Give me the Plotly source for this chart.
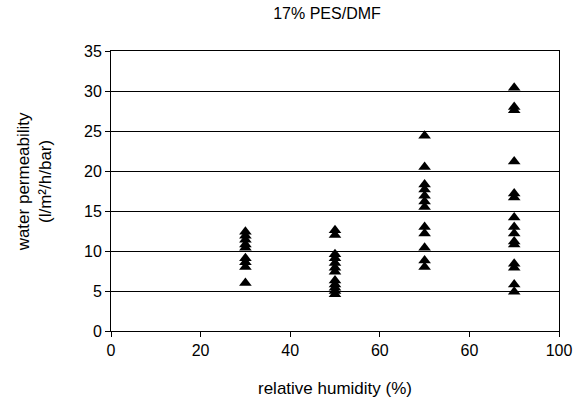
import plotly.graph_objects as go

# Data
rh_30 = [12.4, 11.9, 11.4, 10.8, 10.4, 9.1, 8.6, 8.0, 6.0]
rh_50 = [12.6, 12.0, 9.6, 9.1, 8.5, 7.9, 7.4, 6.3, 5.8, 5.4, 5.0, 4.6]
rh_70 = [24.4, 20.5, 18.3, 17.7, 16.9, 16.2, 15.5, 13.0, 12.2, 10.4, 8.8, 8.0]
rh_90 = [30.4, 28.0, 27.6, 21.2, 17.2, 16.7, 14.2, 13.0, 12.2, 11.2, 10.8, 8.4, 7.9, 5.8, 4.9]
humidity_levels = [30, 50, 70, 90]
x_tickvals = [0, 20, 40, 60, 80, 100]
x_ticktext = ["0", "20", "40", "60", "60", "100"]
y_tickvals = [0, 5, 10, 15, 20, 25, 30, 35]

groups = [rh_30, rh_50, rh_70, rh_90]
xs, ys = [], []
for h, vals in zip(humidity_levels, groups):
    xs += [h] * len(vals)
    ys += vals

font = "Liberation Sans, Arial, sans-serif"

fig = go.Figure(go.Scatter(
    x=xs, y=ys, mode="markers",
    marker=dict(symbol="triangle-up", color="black", size=11, line=dict(width=0)),
    showlegend=False,
))

fig.update_layout(
    width=584, height=407,
    margin=dict(l=111, r=17, t=51, b=76),
    paper_bgcolor="white", plot_bgcolor="white",
    font=dict(family=font, size=16, color="black"),
    title=dict(text="17% PES/DMF", x=327/584, xref="container", xanchor="center",
               y=1 - 13/407, yref="container", yanchor="middle",
               font=dict(family=font, size=16, color="black")),
    xaxis=dict(range=[0, 100], tickvals=x_tickvals, ticktext=x_ticktext,
               showgrid=False, zeroline=False, showline=True, linecolor="black",
               linewidth=1, mirror=True, ticks="outside", ticklen=5,
               tickcolor="black", tickfont=dict(family=font, size=16)),
    yaxis=dict(range=[0, 35], tickvals=y_tickvals,
               showgrid=True, gridcolor="black", gridwidth=1, zeroline=False,
               showline=True, linecolor="black", linewidth=1, mirror=True,
               ticks="outside", ticklen=5, tickcolor="black",
               tickfont=dict(family=font, size=16)),
    annotations=[
        dict(text="water permeability<br>(l/m²/h/bar)", textangle=-90,
             xref="paper", yref="paper", x=(33 - 111) / 456, y=(331 - 182) / 280,
             xanchor="center", yanchor="middle", showarrow=False,
             font=dict(family=font, size=17, color="black")),
        dict(text="relative humidity (%)",
             xref="paper", yref="paper", x=0.5, y=(331 - 388) / 280,
             xanchor="center", yanchor="middle", showarrow=False,
             font=dict(family=font, size=17, color="black")),
    ],
)

fig.write_html("out.html")
